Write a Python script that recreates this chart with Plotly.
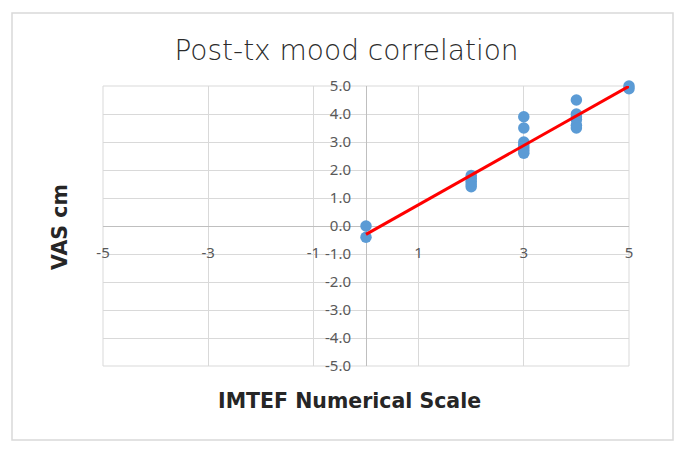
import numpy as np
import plotly.graph_objects as go

# Data
x_vals = [0, 0, 2, 2, 2, 2, 2, 3, 3, 3, 3, 3, 3, 3, 4, 4, 4, 4, 4, 4, 5, 5]
y_vals = [0.0, -0.4, 1.8, 1.7, 1.6, 1.5, 1.4, 3.9, 3.5, 3.0, 2.9, 2.8, 2.7, 2.6,
          4.5, 4.0, 3.9, 3.8, 3.6, 3.5, 5.0, 4.9]
x_ticks = [-5, -3, -1, 1, 3, 5]
y_ticks = [-5, -4, -3, -2, -1, 0, 1, 2, 3, 4, 5]
y_tick_labels = [f"{v:.1f}" for v in y_ticks]

title_text = "Post-tx mood correlation"
x_title = "IMTEF Numerical Scale"
y_title = "VAS cm"

# Linear trendline (least squares) over the data range
slope, intercept = np.polyfit(x_vals, y_vals, 1)
tx = np.array([min(x_vals), max(x_vals)])
ty = slope * tx + intercept

fig = go.Figure()
fig.add_trace(go.Scatter(x=x_vals, y=y_vals, mode="markers", cliponaxis=False,
                         marker=dict(color="#5b9bd5", size=11.5, line=dict(width=0)),
                         showlegend=False, hoverinfo="x+y"))
fig.add_trace(go.Scatter(x=tx, y=ty, mode="lines", cliponaxis=False,
                         line=dict(color="#ff0000", width=3),
                         showlegend=False, hoverinfo="skip"))

# the page body has an 8px margin; figure is sized to fit the 686x454 window
W, H = 678, 446
L, T, PW, PH = 95, 78, 526, 280

grid_col = "#d9d9d9"
tick_font = dict(family="Noto Sans, Open Sans, sans-serif", size=15, color="#595959")
title_family = "DejaVu Sans, Open Sans, sans-serif"

def px(xp):
    return (xp - L) / PW

def py(yp):
    return (T + PH - yp) / PH

fig.update_layout(
    width=W, height=H,
    margin=dict(l=L, r=W - L - PW, t=T, b=H - T - PH),
    paper_bgcolor="white", plot_bgcolor="white",
    title=dict(text=title_text, x=338.5 / W, xanchor="center", y=1 - 42 / H, yanchor="middle",
               font=dict(family=title_family, size=28, color="#2b2b2b", weight=300)),
    xaxis=dict(range=[-5, 5], tickvals=x_ticks, ticktext=[str(v) for v in x_ticks],
               showgrid=True, gridcolor=grid_col, gridwidth=1,
               zeroline=True, zerolinecolor="#bfbfbf", zerolinewidth=1,
               anchor="free", position=0.5, showline=False,
               ticks="", ticklabelstandoff=16, tickfont=tick_font, fixedrange=True),
    yaxis=dict(range=[-5, 5], tickvals=y_ticks, ticktext=y_tick_labels,
               showgrid=True, gridcolor=grid_col, gridwidth=1,
               zeroline=True, zerolinecolor="#bfbfbf", zerolinewidth=1,
               anchor="free", position=0.5, showline=False,
               ticks="", ticklabelstandoff=15, tickfont=tick_font, fixedrange=True),
    shapes=[
        dict(type="rect", xref="paper", yref="paper",
             x0=px(4), x1=px(665), y0=py(432), y1=py(5),
             line=dict(color="#d9d9d9", width=1.5), fillcolor="rgba(0,0,0,0)", layer="below"),
        dict(type="rect", xref="paper", yref="paper", x0=0, x1=1, y0=0, y1=1,
             line=dict(color=grid_col, width=1), fillcolor="rgba(0,0,0,0)", layer="below"),
    ],
    annotations=[
        dict(text=x_title, xref="paper", yref="paper", x=px(341), y=py(393),
             xanchor="center", yanchor="middle", showarrow=False,
             font=dict(family=title_family, size=20.5, color="#262626", weight=700)),
        dict(text=y_title, xref="paper", yref="paper", x=px(52), y=py(219),
             xanchor="center", yanchor="middle", showarrow=False, textangle=-90,
             font=dict(family=title_family, size=20.5, color="#262626", weight=700)),
    ],
)

fig.write_html("out.html")
